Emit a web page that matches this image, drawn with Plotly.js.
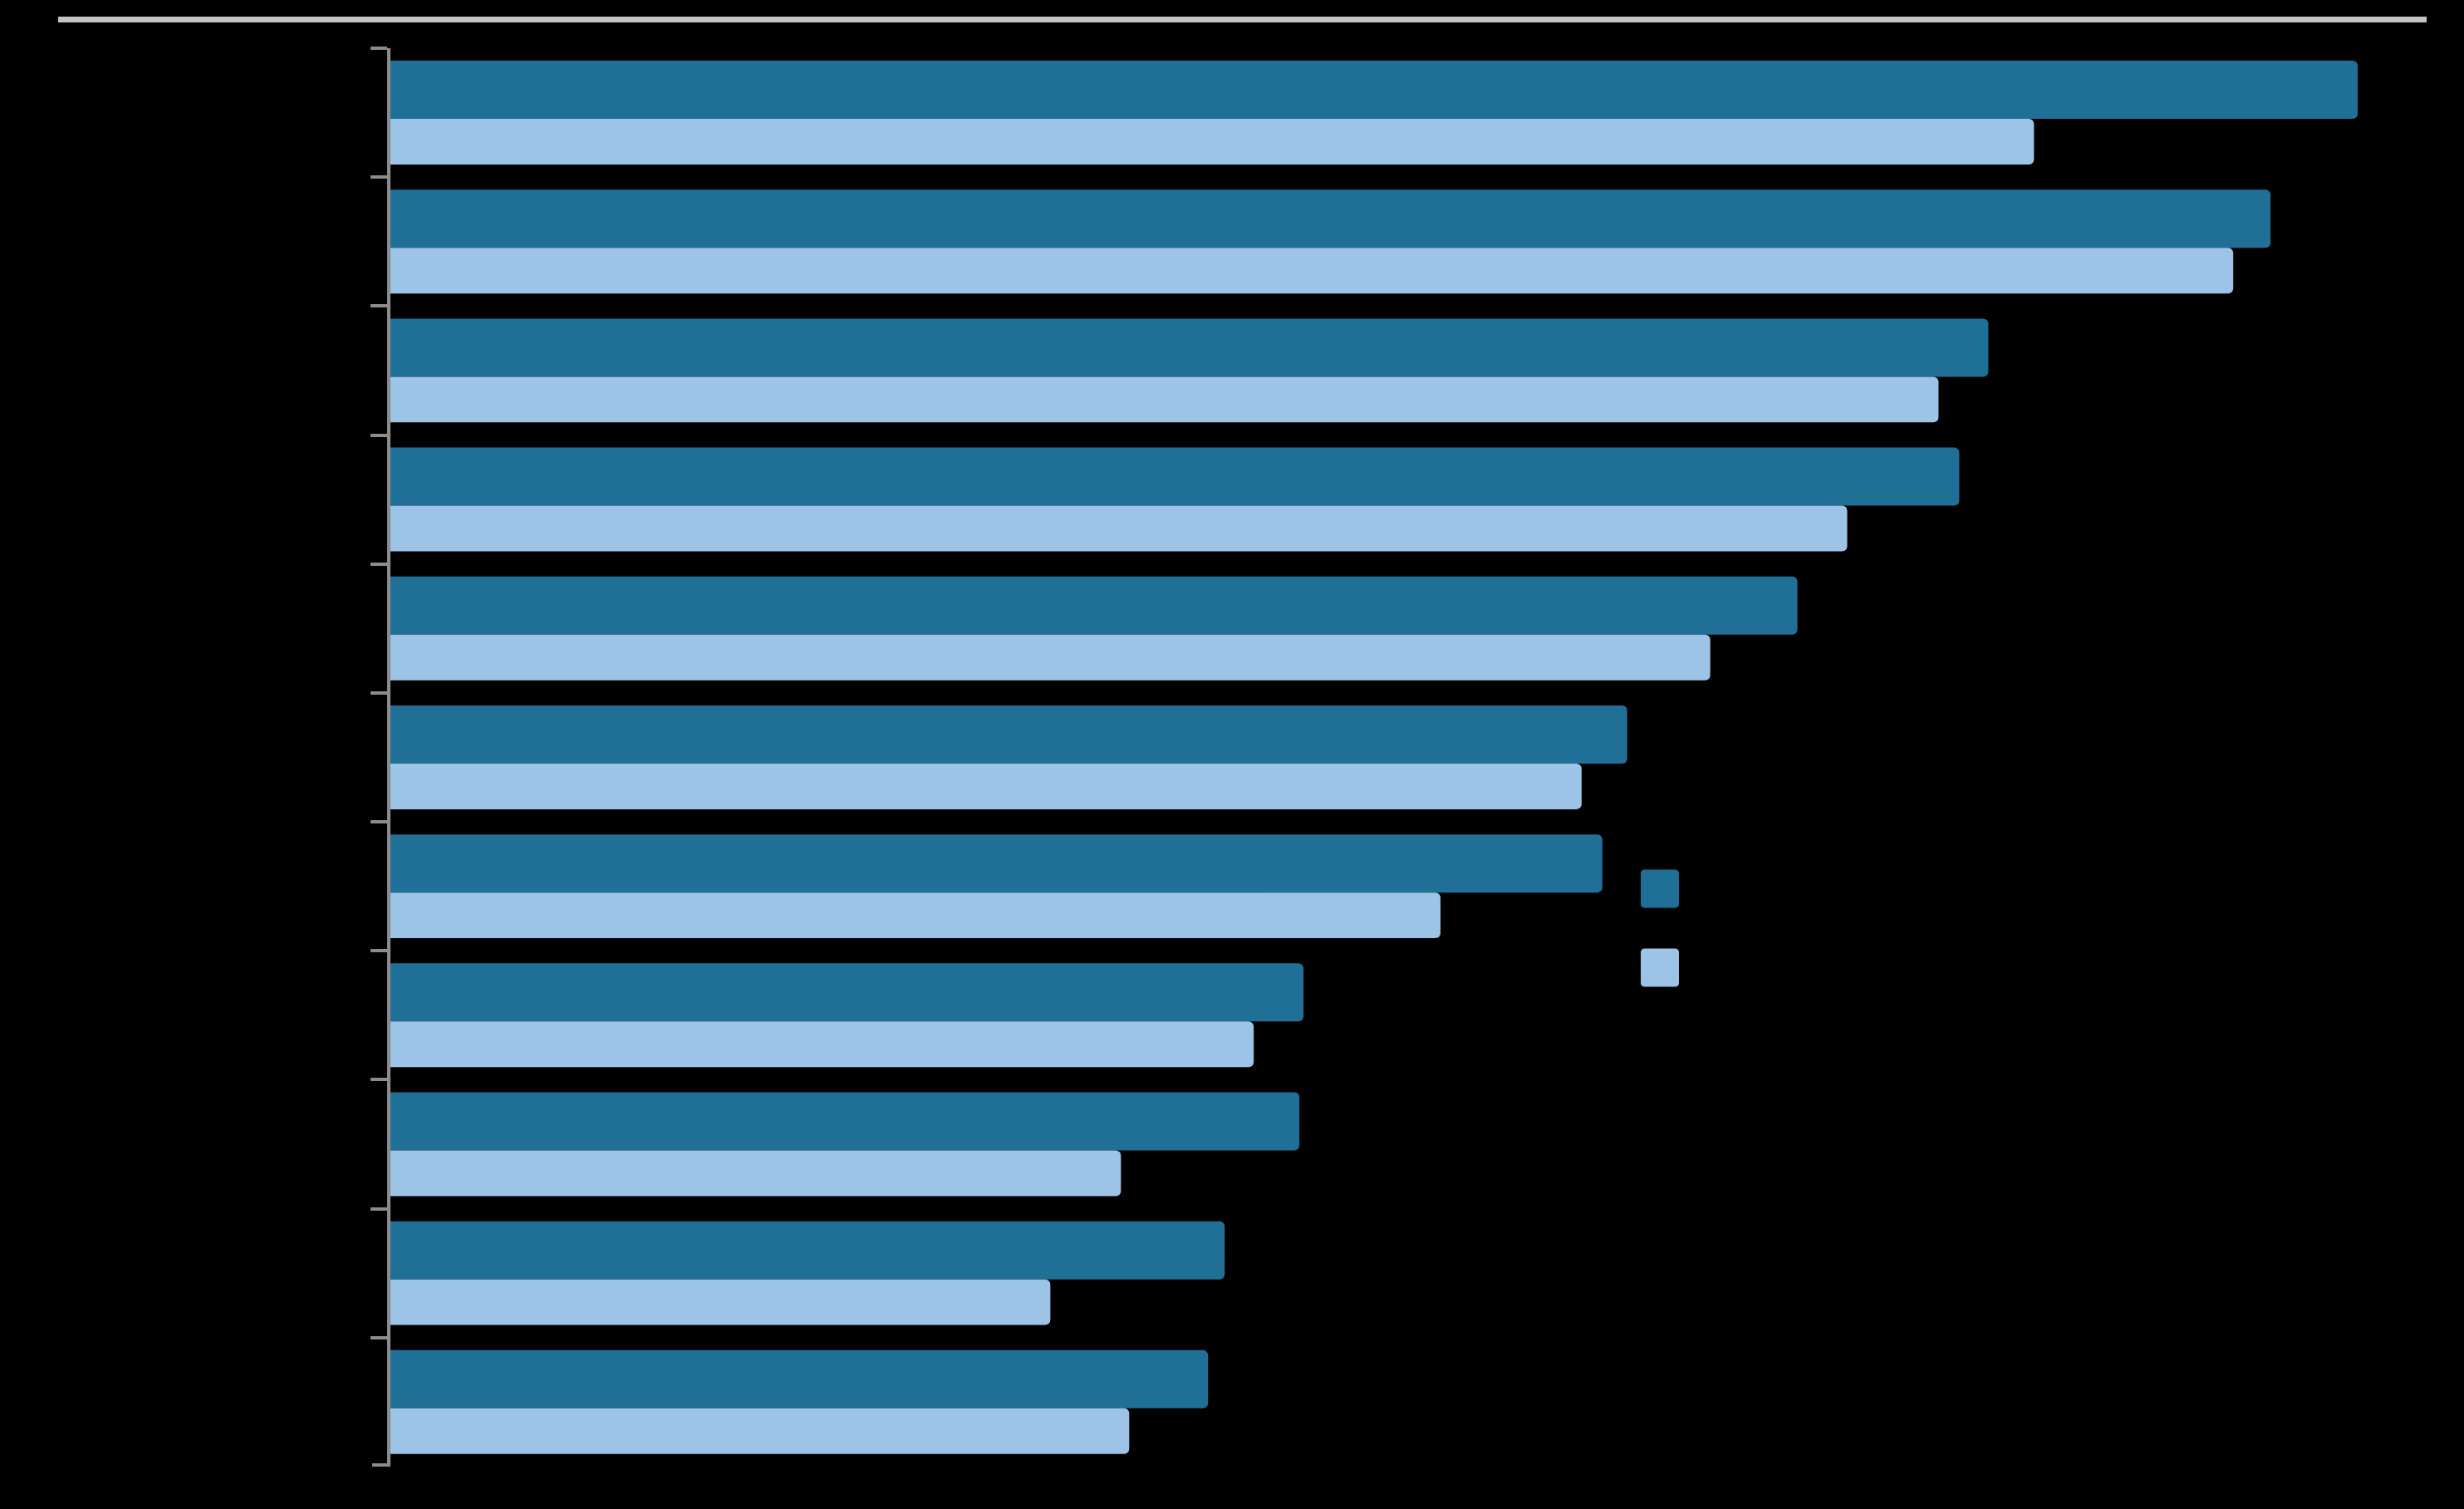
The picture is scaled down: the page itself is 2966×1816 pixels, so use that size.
<!DOCTYPE html>
<html>
<head>
<meta charset="utf-8">
<script src="https://cdn.plot.ly/plotly-3.0.1.min.js"></script>
<style>html,body{margin:0;padding:0;background:#000;}#chart{width:2966px;height:1816px;}</style>
</head>
<body>
<div id="chart"></div>
<script>
// Category labels (not legible in the reference: drawn black on black)
const categories = ["Category 1","Category 2","Category 3","Category 4","Category 5","Category 6",
                    "Category 7","Category 8","Category 9","Category 10","Category 11"];
// Series values (arbitrary units; no value axis is visible)
const seriesDark  = [47.4, 45.3, 38.5, 37.8, 33.9, 29.8, 29.2, 22.0, 21.9, 20.1, 19.7];
const seriesLight = [39.6, 44.4, 37.3, 35.1, 31.8, 28.7, 25.3, 20.8, 17.6, 15.9, 17.8];
const seriesNames = ["Series 1", "Series 2"];

const W = 2966, H = 1816;
const mL = 470, mR = 45, mT = 58, mB = 51;
const plotW = W - mL - mR, plotH = H - mT - mB;

const darkColor = "#1f6f97";
const lightColor = "#9dc3e6";
const axisColor = "#8c8c8c";

const traces = [
  {type: "bar", orientation: "h", name: seriesNames[0], y: categories, x: seriesDark,
   marker: {color: darkColor, line: {width: 0}}, offset: -0.403, width: 0.451, hoverinfo: "x+y+name"},
  {type: "bar", orientation: "h", name: seriesNames[1], y: categories, x: seriesLight,
   marker: {color: lightColor, line: {width: 0}}, offset: 0.048, width: 0.354, hoverinfo: "x+y+name"}
];

function px2paperX(px){ return (px - mL) / plotW; }
function px2paperY(py){ return (H - mB - py) / plotH; }
const sq = "M-23,-18 Q-23,-23 -18,-23 L18,-23 Q23,-23 23,-18 L23,18 Q23,23 18,23 L-18,23 Q-23,23 -23,18 Z";

const layout = {
  width: W, height: H,
  margin: {l: mL, r: mR, t: mT, b: mB, pad: 0},
  paper_bgcolor: "#000000", plot_bgcolor: "#000000",
  barmode: "overlay",
  barcornerradius: 6,
  showlegend: false,
  font: {family: "Liberation Sans, Arial, sans-serif", color: "#000000", size: 28},
  xaxis: {range: [0, (plotW + 2) / 50], visible: false, showgrid: false, zeroline: false, fixedrange: true},
  yaxis: {type: "category", range: [10.5, -0.5], showgrid: false, zeroline: false,
          showline: true, linecolor: axisColor, linewidth: 4,
          ticks: "outside", tickson: "boundaries", ticklen: 20, tickwidth: 4, tickcolor: axisColor,
          showticklabels: false, fixedrange: true},
  shapes: [
    {type: "line", xref: "paper", yref: "paper", x0: px2paperX(70), x1: px2paperX(2921),
     y0: px2paperY(23.5), y1: px2paperY(23.5), line: {color: "#c3c3c3", width: 7}},
    {type: "line", xref: "paper", yref: "paper", x0: px2paperX(448), x1: px2paperX(470),
     y0: px2paperY(1763), y1: px2paperY(1763), line: {color: axisColor, width: 4}},
    {type: "path", xref: "paper", yref: "paper", xsizemode: "pixel", ysizemode: "pixel",
     xanchor: px2paperX(1998), yanchor: px2paperY(1069.5), path: sq,
     fillcolor: darkColor, line: {width: 0}},
    {type: "path", xref: "paper", yref: "paper", xsizemode: "pixel", ysizemode: "pixel",
     xanchor: px2paperX(1998), yanchor: px2paperY(1164.5), path: sq,
     fillcolor: lightColor, line: {width: 0}}
  ],
  annotations: [
    {xref: "paper", yref: "paper", x: px2paperX(2040), y: px2paperY(1069.5), xanchor: "left", yanchor: "middle",
     text: seriesNames[0], showarrow: false, font: {color: "#000000", size: 28}},
    {xref: "paper", yref: "paper", x: px2paperX(2040), y: px2paperY(1164.5), xanchor: "left", yanchor: "middle",
     text: seriesNames[1], showarrow: false, font: {color: "#000000", size: 28}}
  ]
};

Plotly.newPlot("chart", traces, layout, {displayModeBar: false, staticPlot: true});
</script>
</body>
</html>
